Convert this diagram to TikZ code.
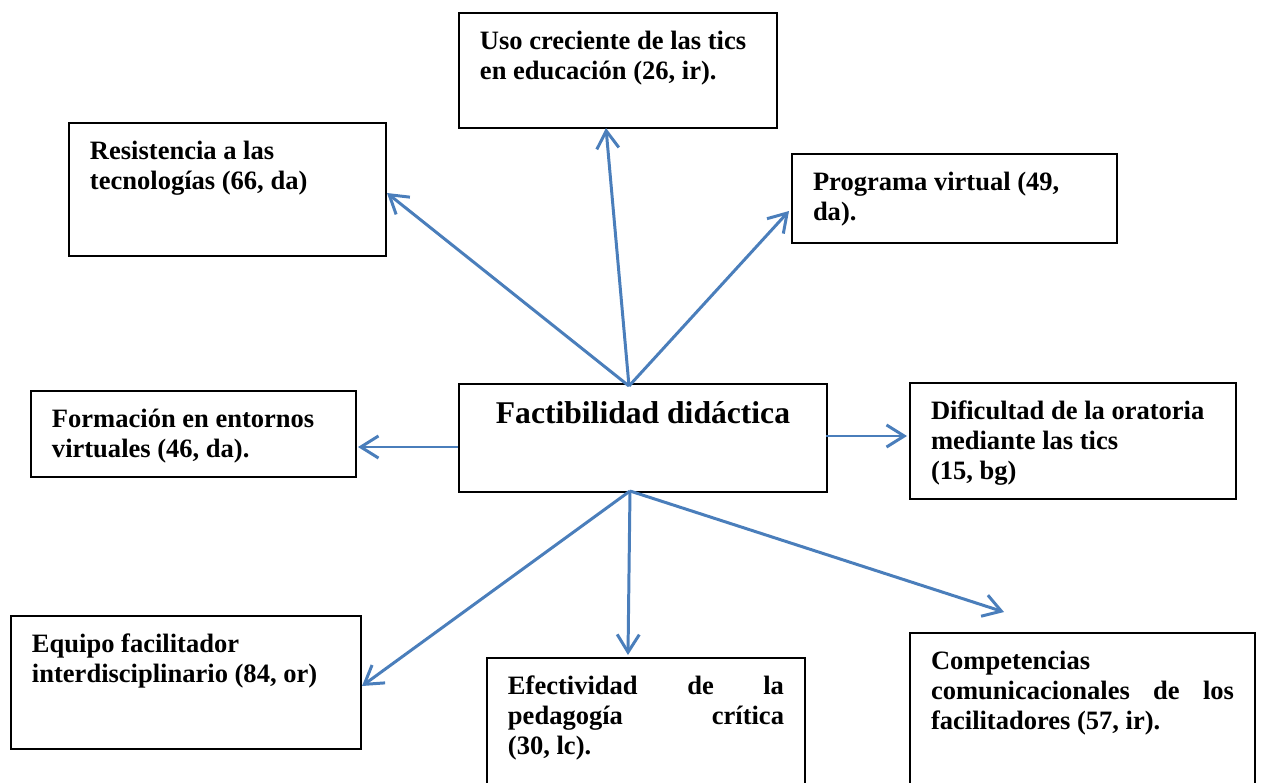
\documentclass[tikz,border=0pt]{standalone}
\usepackage{fontspec}
\setmainfont{Liberation Serif}
\usepackage{xcolor}
\usepackage{tikz}
\usetikzlibrary{positioning,arrows.meta}
\definecolor{azul}{HTML}{4A7EBB}
\newlength{\px}
\setlength{\px}{0.0159cm}
% texto de una caja: ancho, alto (en px), texto
\newcommand{\caja}[3]{\parbox[t][\dimexpr#2\px-30\px\relax][t]{\dimexpr#1\px-42\px\relax}{\strut #3}}
\tikzset{
  cajita/.style ={draw=black, line width=0.9pt, anchor=north west, inner xsep=21\px, inner ysep=15\px,
                  font=\bfseries\fontsize{12}{13.6}\selectfont},
  titulo/.style ={cajita, font=\bfseries\fontsize{14.3}{16}\selectfont},
  flecha/.style ={-{Straight Barb[length=8pt, width=10pt]}, line width=1.35pt, draw=azul},
}
\begin{document}
\begin{tikzpicture}[x=1\px, y=-1\px]
\useasboundingbox (0,0) rectangle (1261,783);
\clip (0,0) rectangle (1261,783);
% cajas
\node[titulo] (factib) at (458,383) {\caja{368}{108}{\centering Factibilidad didáctica}};
\node[cajita] (uso) at (458,12) {\caja{318}{115}{Uso creciente de las tics\\ en educación (26, ir).}};
\node[cajita] (resist) at (68,122) {\caja{317}{133}{Resistencia a las\\ tecnologías (66, da)}};
\node[cajita] (progvirt) at (791,153) {\caja{325}{89}{Programa virtual (49,\\ da).}};
\node[cajita] (formacion) at (30,390) {\caja{325}{86}{Formación en entornos\\ virtuales (46, da).}};
\node[cajita] (dificultad) at (909,382) {\caja{326}{116}{Dificultad de la oratoria\\ mediante las tics\\ (15, bg)}};
\node[cajita] (equipo) at (10,615) {\caja{350}{133}{Equipo facilitador\\ interdisciplinario (84, or)}};
\node[cajita] (efectiv) at (486,657) {\caja{318}{145}{Efectividad \hfill de \hfill la\\ pedagogía \hfill crítica\\ (30, lc).}};
\node[cajita] (compet) at (909,632) {\caja{345}{165}{Competencias\\ comunicacionales \hfill de \hfill los\\ facilitadores (57, ir).}};
% puntos de las flechas
\coordinate (arriba) at (629,386);
\coordinate (abajo) at (630,491);
\coordinate (pResist) at (387,193);
\coordinate (pUso) at (606,128);
\coordinate (pProg) at (789,211);
\coordinate (pEquipo) at (362,686);
\coordinate (pEfect) at (628,655);
\coordinate (pCompet) at (1004,612);
\coordinate (sIzq) at (458,447);
\coordinate (pForm) at (358,447);
\coordinate (sDer) at (826,436);
\coordinate (pDif) at (907,436);
\foreach \p in {pResist,pUso,pProg} { \draw[flecha] (arriba) -- (\p); }
\foreach \p in {pEquipo,pEfect,pCompet} { \draw[flecha] (abajo) -- (\p); }
\draw[flecha] (sIzq) -- (pForm);
\draw[flecha] (sDer) -- (pDif);
\end{tikzpicture}
\end{document}
